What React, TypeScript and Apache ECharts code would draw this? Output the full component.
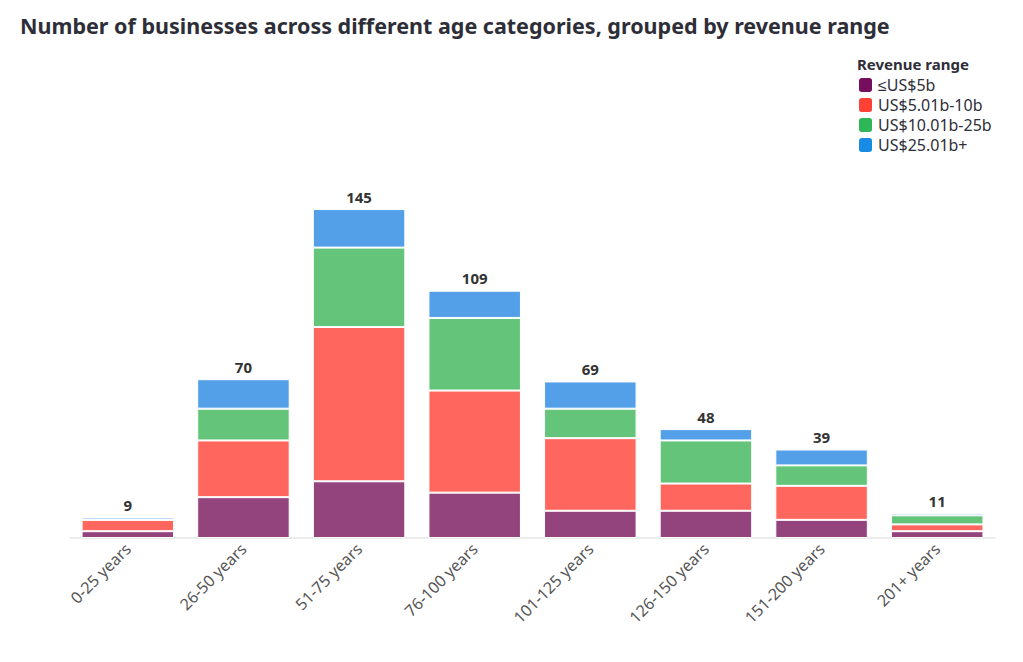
import React, { useEffect, useRef } from "react";
import * as echarts from "echarts";

const categories = [
  "0-25 years",
  "26-50 years",
  "51-75 years",
  "76-100 years",
  "101-125 years",
  "126-150 years",
  "151-200 years",
  "201+ years",
];
const seriesNames = ["≤US$5b", "US$5.01b-10b", "US$10.01b-25b", "US$25.01b+"];
const upTo5b = [3, 18, 25, 20, 12, 12, 8, 3];
const from5to10b = [5, 25, 68, 45, 32, 12, 15, 3];
const from10to25b = [0, 14, 35, 32, 13, 19, 9, 4];
const over25b = [1, 13, 17, 12, 12, 5, 7, 1];
const totals = [9, 70, 145, 109, 69, 48, 39, 11];

const barColors = ["#93447d", "#ff675e", "#63c47a", "#53a0e8"];
const legendColors = ["#750e5c", "#ff4136", "#2db757", "#188ce5"];

export default function App() {
  const ref = useRef<HTMLDivElement>(null);
  useEffect(() => {
    if (!ref.current) return;
    const chart = echarts.init(ref.current, null, { renderer: "svg" });
    const data = [upTo5b, from5to10b, from10to25b, over25b];
    const font = "'Noto Sans', sans-serif";
    chart.setOption({
      animation: false,
      textStyle: { fontFamily: font },
      title: {
        text: "Number of businesses across different age categories, grouped by revenue range",
        left: 7,
        top: 1,
        textStyle: { fontSize: 21.5, fontWeight: "bold", color: "#2e2e38", fontFamily: font },
      },
      graphic: [
        {
          type: "text",
          left: 849,
          top: 48,
          style: { text: "Revenue range", fontSize: 15, fontWeight: "bold", fill: "#2e2e38", fontFamily: font },
        },
      ],
      legend: {
        orient: "vertical",
        left: 844,
        top: 63,
        itemWidth: 15,
        itemHeight: 16,
        itemGap: 2,
        icon: "roundRect",
        selectedMode: false,
        textStyle: { fontSize: 16, lineHeight: 16, color: "#2e2e38" },
        data: seriesNames.map((n, i) => ({ name: n, itemStyle: { color: legendColors[i] } })),
      },
      grid: { left: 62, right: 20, top: 167, bottom: 116, containLabel: false },
      xAxis: {
        type: "category",
        data: categories,
        axisLine: { lineStyle: { color: "#e6e6e6", width: 1.5 } },
        axisTick: { alignWithLabel: true, length: 6, lineStyle: { color: "#e6e6e6", width: 1.5 } },
        axisLabel: { rotate: 45, fontSize: 16, color: "#555", margin: 8 },
      },
      yAxis: { type: "value", min: 0, max: 160, show: false, splitLine: { show: false } },
      series: seriesNames.map((n, i) => ({
        name: n,
        type: "bar",
        stack: "total",
        barCategoryGap: "20%",
        data: data[i],
        itemStyle: { color: barColors[i], borderColor: "#fff", borderWidth: 1 },
        label:
          i === 3
            ? {
                show: true,
                position: "top",
                distance: 5,
                fontSize: 15,
                fontWeight: "bold",
                color: "#333",
                formatter: (p: any) => String(totals[p.dataIndex]),
              }
            : { show: false },
      })),
    });
    return () => chart.dispose();
  }, []);
  return <div ref={ref} style={{ width: 1007, height: 646 }} />;
}
